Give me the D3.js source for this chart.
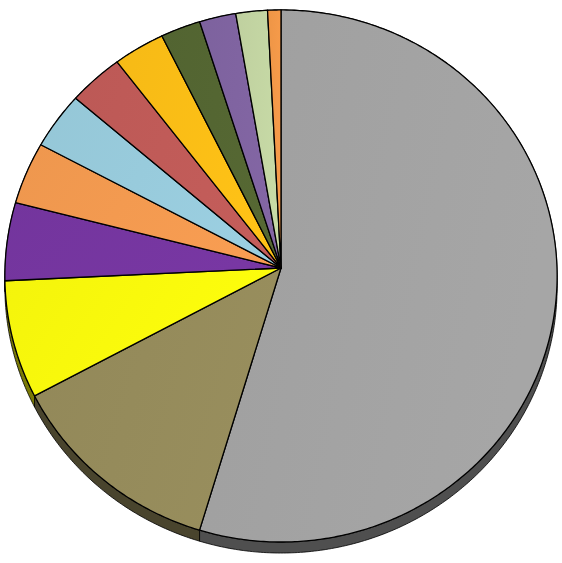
<!DOCTYPE html>
<html lang="en">
  <head>
    <meta charset="UTF-8" />
    <title>pie3d</title>
    <style>
      body { margin: 0; background: #fff; }
    </style>
  </head>
  <body>
    <div id="wrapper"></div>
    <script src="https://d3js.org/d3.v7.min.js"></script>
    <script>
      // slice values, clockwise from 12 o'clock
      const categories = ["A", "B", "C", "D", "E", "F", "G", "H", "I", "J", "K", "L"];
      const values = [54.6, 12.5, 7.1, 4.75, 3.8, 3.5, 3.3, 3.1, 2.4, 2.2, 1.9, 0.8];
      const topColors = ["#a2a2a2", "#958b5b", "#f9f90c", "#7536a0", "#f39a50", "#98cbdc",
                         "#c05b58", "#fbbe16", "#546632", "#8064a1", "#c3d5a2", "#f29848"];

      const width = 562, height = 563;
      const apex = {x: 281, y: 268};
      const A = 276, B = 265.8, k = -0.03;   // perspective of the tilted disk
      const depth = 11;

      // disk angle (clockwise from top) -> screen point
      function project(theta, dy) {
        const u = Math.sin(theta), v = -Math.cos(theta);
        const w = 1 + k * v;
        return [apex.x + A * u / w, apex.y + B * v / w + (dy || 0)];
      }

      const pie = d3.pie().sort(null).value(d => d)(values);

      function arcPoints(a0, a1, dy) {
        const n = Math.max(2, Math.ceil((a1 - a0) / 0.01));
        return d3.range(n + 1).map(i => project(a0 + (a1 - a0) * i / n, dy));
      }

      const svg = d3.select("#wrapper")
        .append("svg")
          .attr("width", width)
          .attr("height", height);

      const defs = svg.append("defs");
      topColors.forEach((c, i) => {
        const g = defs.append("linearGradient")
          .attr("id", "g" + i)
          .attr("x1", "0").attr("y1", "0").attr("x2", "1").attr("y2", "0.3");
        g.append("stop").attr("offset", "0").attr("stop-color", d3.color(c).darker(0.06));
        g.append("stop").attr("offset", "1").attr("stop-color", d3.color(c).brighter(0.06));
      });

      const line = d3.line();

      // side walls
      svg.append("g").selectAll("path")
        .data(pie)
        .join("path")
          .attr("d", d => {
            const top = arcPoints(d.startAngle, d.endAngle, 0);
            const bot = arcPoints(d.startAngle, d.endAngle, depth).reverse();
            return line(top.concat(bot)) + "Z";
          })
          .attr("fill", (d, i) => d3.color(topColors[i]).darker(2))
          .attr("stroke", "#000")
          .attr("stroke-width", 0.8)
          .attr("stroke-linejoin", "round");

      // top faces
      svg.append("g").selectAll("path")
        .data(pie)
        .join("path")
          .attr("d", d => line([[apex.x, apex.y]].concat(arcPoints(d.startAngle, d.endAngle, 0))) + "Z")
          .attr("fill", (d, i) => `url(#g${i})`)
          .attr("stroke", "#000")
          .attr("stroke-width", 1.3)
          .attr("stroke-linejoin", "round");
    </script>
  </body>
</html>
